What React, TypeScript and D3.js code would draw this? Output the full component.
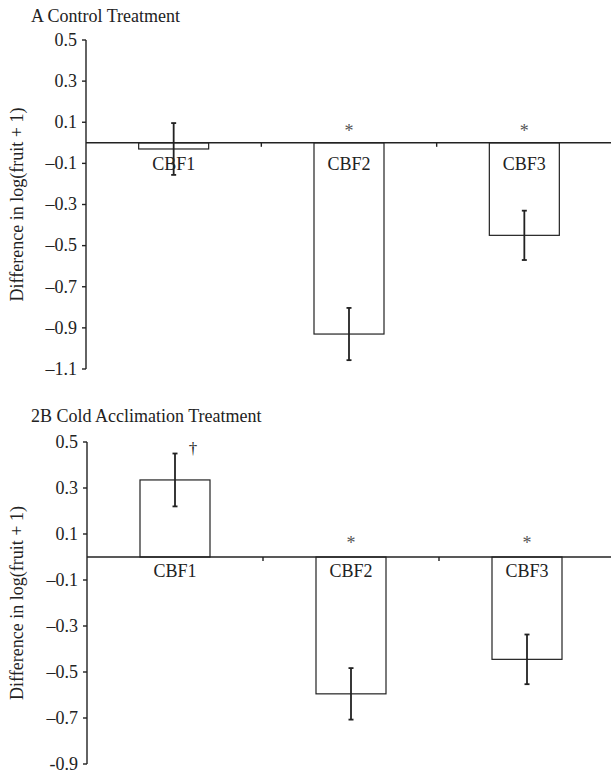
import React from "react";
import * as d3 from "d3";

const categories = ["CBF1", "CBF2", "CBF3"];
const controlMeans = [-0.03, -0.93, -0.45];
const controlErrors = [0.126, 0.127, 0.12];
const controlMarks = ["", "*", "*"];
const coldMeans = [0.335, -0.595, -0.445];
const coldErrors = [0.115, 0.112, 0.108];
const coldMarks = ["†", "*", "*"];
const controlTicks = [0.5, 0.3, 0.1, -0.1, -0.3, -0.5, -0.7, -0.9, -1.1];
const controlTickLabels = ["0.5", "0.3", "0.1", "–0.1", "–0.3", "–0.5", "–0.7", "–0.9", "–1.1"];
const coldTicks = [0.5, 0.3, 0.1, -0.1, -0.3, -0.5, -0.7, -0.9];
const coldTickLabels = ["0.5", "0.3", "0.1", "–0.1", "–0.3", "–0.5", "–0.7", "-0.9"];
const controlTitle = "A Control Treatment";
const coldTitle = "2B Cold Acclimation Treatment";
const yAxisTitle = "Difference in log(fruit + 1)";

const FONT = "Liberation Serif, DejaVu Serif, serif";
const INK = "#222";

type PanelProps = {
  title: string;
  titleY: number;
  means: number[];
  errors: number[];
  marks: string[];
  ticks: number[];
  tickLabels: string[];
  yDomain: [number, number];
  yRange: [number, number];
  xRange: [number, number];
  labelOffset: number;
  starOffset: number;
};

function Panel(p: PanelProps) {
  const x = d3.scaleBand<string>().domain(categories).range(p.xRange).padding(0);
  const y = d3.scaleLinear().domain(p.yDomain).range(p.yRange);
  const y0 = y(0);
  const barW = 70;
  const axisX = p.xRange[0];
  const boundaries = categories.map((c) => (x(c) as number) + x.bandwidth());
  const mid = (p.yRange[0] + p.yRange[1]) / 2;
  const ts = { fontFamily: FONT };
  return (
    <g>
      <text x={31} y={p.titleY} style={ts} fontSize={18} fill={INK}>
        {p.title}
      </text>
      <text
        transform={`translate(17,${mid}) rotate(-90)`}
        textAnchor="middle"
        dy="0.35em"
        style={ts}
        fontSize={18}
        fill={INK}
      >
        {yAxisTitle}
      </text>
      {categories.map((c, i) => {
        const cx = (x(c) as number) + x.bandwidth() / 2;
        const v = p.means[i];
        const top = Math.min(y(v), y0);
        const h = Math.abs(y(v) - y0);
        return (
          <rect key={c} x={cx - barW / 2} y={top} width={barW} height={h} fill="#fff" stroke={INK} strokeWidth={1.2} />
        );
      })}
      <line x1={axisX} x2={p.xRange[1]} y1={y0} y2={y0} stroke={INK} strokeWidth={1.4} />
      {boundaries.map((b, i) => (
        <line key={i} x1={b} x2={b} y1={y0} y2={y0 + 4} stroke={INK} strokeWidth={1.4} />
      ))}
      <line x1={axisX} x2={axisX} y1={p.yRange[1]} y2={p.yRange[0]} stroke={INK} strokeWidth={1.4} />
      {p.ticks.map((t, i) => (
        <g key={t}>
          <line x1={axisX - 4} x2={axisX} y1={y(t)} y2={y(t)} stroke={INK} strokeWidth={1.4} />
          <text x={axisX - 9} y={y(t)} dy="0.32em" textAnchor="end" style={ts} fontSize={18} fill={INK}>
            {p.tickLabels[i]}
          </text>
        </g>
      ))}
      {categories.map((c, i) => {
        const cx = (x(c) as number) + x.bandwidth() / 2;
        const hi = y(p.means[i] + p.errors[i]);
        const lo = y(p.means[i] - p.errors[i]);
        return (
          <g key={c} stroke={INK} strokeWidth={1.8}>
            <line x1={cx} x2={cx} y1={hi} y2={lo} />
            <line x1={cx - 2.5} x2={cx + 2.5} y1={hi} y2={hi} />
            <line x1={cx - 2.5} x2={cx + 2.5} y1={lo} y2={lo} />
          </g>
        );
      })}
      {categories.map((c) => {
        const cx = (x(c) as number) + x.bandwidth() / 2;
        return (
          <text key={c} x={cx} y={y0 + p.labelOffset} textAnchor="middle" style={ts} fontSize={18} fill={INK}>
            {c}
          </text>
        );
      })}
      {categories.map((c, i) => {
        const cx = (x(c) as number) + x.bandwidth() / 2;
        const m = p.marks[i];
        if (!m) return null;
        if (m === "†") {
          const hi = y(p.means[i] + p.errors[i]);
          return (
            <text key={c} x={cx + 18} y={hi} textAnchor="middle" style={ts} fontSize={17} fill={INK}>
              {m}
            </text>
          );
        }
        return (
          <text key={c} x={cx} y={y0 - p.starOffset} textAnchor="middle" style={ts} fontSize={18} fill="#555">
            {m}
          </text>
        );
      })}
    </g>
  );
}

export default function App() {
  return (
    <svg width={611} height={770} style={{ position: "absolute", left: 0, top: 0, background: "#fff" }}>
      <rect width={611} height={770} fill="#fff" />
      <Panel
        title={controlTitle}
        titleY={22}
        means={controlMeans}
        errors={controlErrors}
        marks={controlMarks}
        ticks={controlTicks}
        tickLabels={controlTickLabels}
        yDomain={[-1.1, 0.5]}
        yRange={[369, 40]}
        xRange={[86, 612]}
        labelOffset={27.5}
        starOffset={6}
      />
      <Panel
        title={coldTitle}
        titleY={422}
        means={coldMeans}
        errors={coldErrors}
        marks={coldMarks}
        ticks={coldTicks}
        tickLabels={coldTickLabels}
        yDomain={[-0.9, 0.5]}
        yRange={[764, 442]}
        xRange={[87, 615]}
        labelOffset={20}
        starOffset={8}
      />
    </svg>
  );
}
